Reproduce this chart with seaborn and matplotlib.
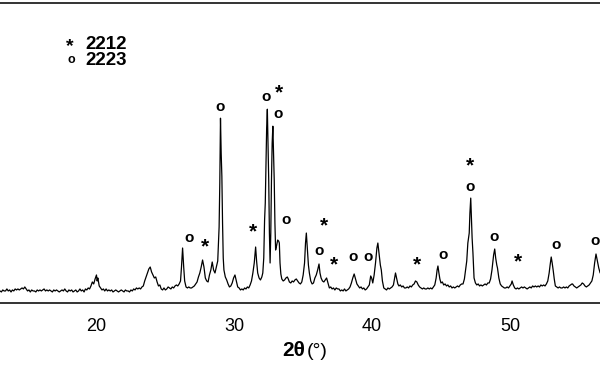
import matplotlib
matplotlib.use("Agg")
import matplotlib.pyplot as plt
import seaborn as sns
import pandas as pd

# ---- data (2theta in degrees, intensity in arbitrary units) ----
two_theta = [
    13.0, 13.1, 13.2, 13.3, 13.4, 13.5, 13.6, 13.7, 13.8, 13.9, 14.0, 14.1, 14.2, 14.3, 14.4, 14.5,
    14.6, 14.7, 14.8, 14.9, 15.0, 15.1, 15.2, 15.3, 15.4, 15.5, 15.6, 15.7, 15.8, 15.9, 16.0, 16.1,
    16.2, 16.3, 16.4, 16.5, 16.6, 16.7, 16.8, 16.9, 17.0, 17.1, 17.2, 17.3, 17.4, 17.5, 17.6, 17.7,
    17.8, 17.9, 18.0, 18.1, 18.2, 18.3, 18.4, 18.5, 18.6, 18.7, 18.8, 18.9, 19.0, 19.1, 19.2, 19.3,
    19.4, 19.5, 19.6, 19.7, 19.8, 19.9, 20.0, 20.05, 20.1, 20.2, 20.3, 20.4, 20.5, 20.6, 20.7, 20.8,
    20.9, 21.0, 21.1, 21.2, 21.3, 21.4, 21.5, 21.6, 21.7, 21.8, 21.9, 22.0, 22.1, 22.2, 22.3, 22.4,
    22.5, 22.6, 22.7, 22.8, 22.9, 23.0, 23.1, 23.2, 23.3, 23.4, 23.5, 23.6, 23.7, 23.8, 23.9, 24.0,
    24.1, 24.2, 24.3, 24.4, 24.5, 24.6, 24.7, 24.8, 24.9, 25.0, 25.1, 25.2, 25.3, 25.4, 25.5, 25.6,
    25.7, 25.8, 25.9, 26.0, 26.1, 26.17, 26.25, 26.33, 26.4, 26.5, 26.6, 26.7, 26.8, 26.9, 27.0, 27.1,
    27.2, 27.3, 27.4, 27.5, 27.6, 27.7, 27.8, 27.9, 28.0, 28.1, 28.2, 28.3, 28.4, 28.5, 28.6, 28.7,
    28.8, 28.85, 28.9, 28.95, 29.0, 29.05, 29.1, 29.15, 29.2, 29.25, 29.35, 29.45, 29.55, 29.65, 29.75, 29.85,
    29.95, 30.05, 30.15, 30.25, 30.35, 30.45, 30.55, 30.65, 30.75, 30.85, 30.95, 31.05, 31.15, 31.25, 31.35, 31.45,
    31.55, 31.62, 31.7, 31.8, 31.9, 32.0, 32.07, 32.14, 32.2, 32.25, 32.3, 32.35, 32.4, 32.45, 32.5, 32.55,
    32.6, 32.65, 32.7, 32.75, 32.8, 32.85, 32.9, 32.95, 33.0, 33.08, 33.15, 33.22, 33.27, 33.32, 33.38, 33.45,
    33.55, 33.65, 33.75, 33.85, 33.92, 34.0, 34.1, 34.2, 34.3, 34.4, 34.5, 34.6, 34.7, 34.8, 34.9, 35.0,
    35.1, 35.17, 35.23, 35.3, 35.38, 35.45, 35.55, 35.65, 35.75, 35.85, 35.95, 36.05, 36.15, 36.22, 36.3, 36.4,
    36.5, 36.6, 36.7, 36.8, 36.9, 37.0, 37.1, 37.2, 37.3, 37.4, 37.5, 37.6, 37.7, 37.8, 37.9, 38.0,
    38.1, 38.2, 38.3, 38.4, 38.5, 38.6, 38.7, 38.8, 38.9, 39.0, 39.1, 39.2, 39.3, 39.4, 39.5, 39.6,
    39.7, 39.8, 39.9, 39.97, 40.05, 40.15, 40.25, 40.35, 40.42, 40.5, 40.6, 40.67, 40.75, 40.85, 40.95, 41.05,
    41.15, 41.25, 41.35, 41.45, 41.55, 41.65, 41.7, 41.78, 41.87, 41.95, 42.05, 42.15, 42.25, 42.35, 42.45, 42.55,
    42.65, 42.75, 42.85, 42.95, 43.05, 43.15, 43.25, 43.35, 43.45, 43.55, 43.65, 43.75, 43.85, 43.95, 44.05, 44.15,
    44.25, 44.35, 44.45, 44.55, 44.65, 44.72, 44.78, 44.85, 44.92, 45.0, 45.1, 45.2, 45.3, 45.4, 45.5, 45.6,
    45.7, 45.8, 45.9, 46.0, 46.1, 46.2, 46.3, 46.4, 46.5, 46.6, 46.7, 46.8, 46.87, 46.95, 47.0, 47.05,
    47.1, 47.16, 47.22, 47.26, 47.32, 47.4, 47.5, 47.6, 47.7, 47.8, 47.9, 48.0, 48.1, 48.2, 48.3, 48.4,
    48.5, 48.6, 48.7, 48.75, 48.82, 48.9, 48.97, 49.05, 49.1, 49.2, 49.3, 49.4, 49.5, 49.6, 49.7, 49.8,
    49.9, 50.0, 50.1, 50.16, 50.25, 50.35, 50.45, 50.55, 50.65, 50.75, 50.85, 50.95, 51.05, 51.15, 51.25, 51.35,
    51.45, 51.55, 51.65, 51.75, 51.85, 51.95, 52.05, 52.15, 52.25, 52.35, 52.45, 52.55, 52.65, 52.75, 52.85, 52.92,
    53.0, 53.07, 53.15, 53.22, 53.3, 53.4, 53.5, 53.6, 53.7, 53.8, 53.9, 54.0, 54.1, 54.2, 54.3, 54.4,
    54.5, 54.55, 54.65, 54.75, 54.85, 54.95, 55.05, 55.15, 55.25, 55.35, 55.45, 55.55, 55.65, 55.75, 55.85, 55.95,
    56.05, 56.15, 56.25, 56.35, 56.45, 56.55,
]
intensity = [
    12, 11, 13, 12, 12, 14, 12, 13, 11, 13, 12, 14, 13, 14, 13, 14,
    15, 14, 16, 14, 12, 13, 11, 13, 12, 12, 11, 13, 12, 13, 12, 13,
    14, 12, 13, 12, 13, 12, 11, 13, 12, 13, 12, 11, 12, 13, 12, 14,
    12, 11, 13, 12, 13, 11, 12, 13, 11, 12, 14, 12, 13, 11, 14, 13,
    15, 14, 17, 21, 19, 24, 28, 22, 25, 17, 15, 13, 14, 12, 14, 12,
    13, 12, 13, 11, 12, 13, 12, 11, 12, 13, 12, 11, 13, 12, 12, 11,
    13, 12, 14, 13, 15, 14, 15, 14, 16, 17, 22, 26, 30, 34, 36, 31,
    28, 25, 26, 21, 17, 18, 14, 13, 15, 13, 14, 16, 15, 14, 16, 15,
    17, 18, 17, 19, 22, 36, 55, 36, 22, 16, 15, 16, 15, 15, 16, 17,
    19, 21, 26, 30, 36, 43, 36, 25, 22, 21, 28, 33, 41, 33, 30, 36,
    42, 60, 76, 120, 185, 150, 127, 80, 45, 33, 26, 23, 19, 16, 17, 20,
    25, 28, 22, 16, 15, 13, 14, 13, 15, 14, 16, 15, 18, 22, 30, 40,
    56, 42, 30, 25, 23, 26, 30, 45, 83, 100, 140, 175, 194, 160, 123, 70,
    40, 70, 123, 160, 177, 150, 123, 80, 53, 58, 63, 62, 60, 40, 29, 24,
    22, 23, 25, 26, 24, 21, 20, 22, 21, 23, 24, 22, 20, 19, 21, 28,
    40, 60, 70, 55, 38, 30, 22, 19, 20, 25, 28, 33, 39, 30, 25, 22,
    21, 23, 25, 20, 15, 16, 14, 15, 13, 15, 14, 14, 12, 13, 12, 14,
    12, 13, 14, 16, 20, 25, 29, 24, 19, 17, 15, 16, 14, 15, 13, 14,
    16, 18, 27, 25, 20, 28, 40, 55, 60, 50, 38, 33, 22, 15, 14, 13,
    15, 14, 15, 16, 18, 26, 30, 25, 19, 17, 18, 16, 17, 15, 15, 16,
    15, 17, 16, 18, 19, 22, 21, 18, 16, 15, 14, 15, 14, 14, 15, 14,
    15, 14, 16, 18, 25, 33, 37, 30, 24, 20, 21, 18, 19, 17, 18, 16,
    17, 15, 16, 15, 16, 17, 16, 18, 19, 19, 24, 35, 42, 60, 65, 70,
    90, 105, 80, 65, 50, 25, 20, 18, 19, 17, 18, 17, 18, 19, 18, 20,
    20, 24, 33, 39, 48, 54, 45, 38, 35, 25, 19, 17, 16, 15, 15, 16,
    15, 17, 19, 22, 18, 15, 14, 15, 14, 15, 16, 15, 16, 15, 14, 15,
    16, 15, 17, 16, 17, 16, 17, 16, 18, 17, 18, 17, 19, 22, 30, 38,
    46, 40, 32, 24, 17, 16, 15, 16, 15, 15, 16, 15, 16, 15, 17, 18,
    19, 19, 17, 16, 15, 16, 17, 18, 20, 19, 17, 16, 17, 18, 20, 22,
    28, 40, 49, 42, 35, 30,
]

# peak markers: "*" = 2212 phase, "o" = 2223 phase
star_x = [27.87, 31.33, 33.27, 36.5, 37.26, 43.28, 47.1, 50.6]
star_y = [56, 71, 210, 77, 38, 38, 137, 41]
o_x = [26.73, 28.96, 32.3, 33.2, 33.73, 36.15, 38.6, 39.68, 45.17, 47.1, 48.85, 53.35, 56.17]
o_y = [65, 196, 206, 189, 83, 52, 46, 46, 48, 116, 66, 58, 62]

legend_symbols = ["*", "o"]
legend_labels = ["2212", "2223"]
x_ticks = [20, 30, 40, 50]

sns.set_style("white")
plt.rcParams["font.family"] = ["Liberation Sans", "DejaVu Sans"]
plt.rcParams["text.color"] = "black"
plt.rcParams["axes.labelcolor"] = "black"

fig = plt.figure(figsize=(6.0, 3.74), dpi=100)
ax = fig.add_axes([0.0, 0.19, 1.0, 0.801])

df = pd.DataFrame({"two_theta": two_theta, "intensity": intensity})
sns.lineplot(data=df, x="two_theta", y="intensity", color="black", linewidth=0.9, ax=ax)

ax.set_xlim(13.0, 56.54)
ax.set_ylim(0, 300)
ax.set_xticks(x_ticks)
ax.set_xticklabels([str(t) for t in x_ticks], fontsize=13)
ax.set_yticks([])
ax.set_ylabel("")
ax.tick_params(axis="x", direction="out", length=2.5, width=1, pad=8, colors="black")
for side in ["left", "right"]:
    ax.spines[side].set_visible(False)
for side in ["top", "bottom"]:
    ax.spines[side].set_linewidth(1.4)
    ax.spines[side].set_color("#333333")

# peak labels
for x, y in zip(star_x, star_y):
    ax.text(x, y, "*", ha="center", va="center", fontsize=15, fontweight="bold", color="black")
for x, y in zip(o_x, o_y):
    ax.text(x, y, "o", ha="center", va="center", fontsize=11, fontweight="bold", color="black")

# legend as text
ax.text(18.08, 257, legend_symbols[0], ha="center", va="center", fontsize=14, fontweight="bold")
ax.text(18.15, 243, legend_symbols[1], ha="center", va="center", fontsize=9, fontweight="bold")
ax.text(19.17, 258.5, legend_labels[0], ha="left", va="center", fontsize=13.5, fontweight="bold")
ax.text(19.17, 243, legend_labels[1], ha="left", va="center", fontsize=13.5, fontweight="bold")

# x label: bold "2θ" followed by "(°)"
ax.set_xlabel("2θ", fontsize=15, fontweight="bold", color="black")
ax.xaxis.label.set_ha("right")
ax.xaxis.set_label_coords(305 / 600, -0.128)
ax.annotate("(°)", xy=(1, 0), xycoords=ax.xaxis.label, xytext=(1, 0), textcoords="offset points",
            ha="left", va="bottom", fontsize=14, color="black")

fig.savefig("out.png", dpi=100)
